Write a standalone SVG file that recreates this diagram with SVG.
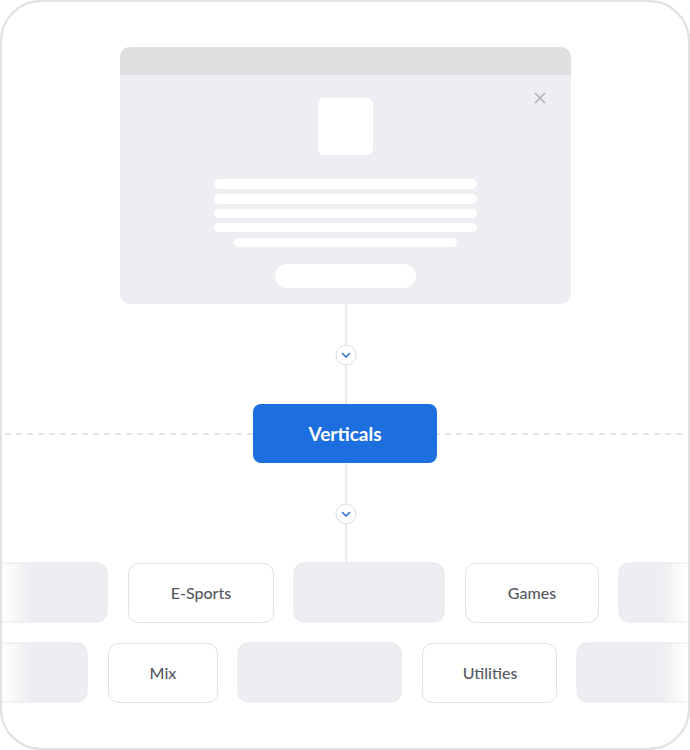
<svg xmlns="http://www.w3.org/2000/svg" width="690" height="750" viewBox="0 0 690 750">
<style>
.gbox{stroke:#e4e6ea;stroke-width:1}
.wbox{fill:#ffffff;stroke:#dfe1e5;stroke-width:1}
.lbl{font-family:Lato,"Liberation Sans",sans-serif;font-size:16px;fill:#555862;text-anchor:middle;font-weight:500}
.bar{fill:#ffffff}
.conn{stroke:#e3e4e6;stroke-width:1.5;fill:none}
.chev{fill:#fff;stroke:#dcdde0;stroke-width:1}
.chevp{fill:none;stroke:#2a6fd6;stroke-width:1.6;stroke-linecap:round;stroke-linejoin:round}
</style>
<defs>
<linearGradient id="fadeL" gradientUnits="userSpaceOnUse" x1="3" y1="0" x2="30" y2="0">
<stop offset="0" stop-color="#eceef1" stop-opacity="0"/>
<stop offset="1" stop-color="#eceef1"/>
</linearGradient>
<linearGradient id="fadeR" gradientUnits="userSpaceOnUse" x1="660" y1="0" x2="688" y2="0">
<stop offset="0" stop-color="#eceef1"/>
<stop offset="1" stop-color="#eceef1" stop-opacity="0"/>
</linearGradient>
<clipPath id="frameClip"><rect x="1" y="1" width="688" height="748" rx="40"/></clipPath>
</defs>
<rect x="1" y="1" width="688" height="748" rx="40" fill="#ffffff" stroke="#e2e2e2" stroke-width="2"/>

<g id="popup">
<rect x="120" y="47" width="451" height="257" rx="10" fill="#eceef1"/>
<path d="M120 75 V57 a10 10 0 0 1 10 -10 H561 a10 10 0 0 1 10 10 V75 Z" fill="#dfdfe0"/>
<path d="M535 93 L545 103 M545 93 L535 103" stroke="#a9abb0" stroke-width="1.3" fill="none"/>
<rect x="318" y="98" width="55" height="57" rx="6" fill="#ffffff"/>
<rect class="bar" x="214" y="179" width="263" height="10" rx="5"/>
<rect class="bar" x="214" y="194" width="263" height="10" rx="5"/>
<rect class="bar" x="214" y="209" width="263" height="9" rx="4.5"/>
<rect class="bar" x="214" y="223" width="263" height="9" rx="4.5"/>
<rect class="bar" x="234" y="238" width="223" height="9" rx="4.5"/>
<rect x="275" y="264" width="141" height="24" rx="12" fill="#ffffff"/>
</g>

<g id="connectors">
<line x1="5" y1="434" x2="686" y2="434" stroke="#dcdde0" stroke-width="1.5" stroke-dasharray="6 5"/>
<line class="conn" x1="346" y1="304" x2="346" y2="404"/>
<line class="conn" x1="346" y1="463" x2="346" y2="563"/>
<circle class="chev" cx="346" cy="355" r="10"/>
<path class="chevp" d="M342.5 353.5 L346 357 L349.5 353.5"/>
<circle class="chev" cx="346" cy="514" r="10"/>
<path class="chevp" d="M342.5 512.5 L346 516 L349.5 512.5"/>
</g>

<g id="verticals">
<rect x="253" y="404" width="184" height="59" rx="8" fill="#1d6fe0"/>
<text x="345" y="441" font-family="Lato,'Liberation Sans',sans-serif" font-size="19" font-weight="700" fill="#ffffff" text-anchor="middle">Verticals</text>
</g>

<g clip-path="url(#frameClip)">
<g id="r1b1"><rect class="gbox" x="-10" y="563" width="117" height="59" rx="10" fill="url(#fadeL)"/></g>
<g id="esports"><rect class="wbox" x="128.5" y="563.5" width="145" height="59" rx="10"/><text class="lbl" x="201" y="599">E-Sports</text></g>
<g id="r1b3"><rect class="gbox" x="294" y="563" width="150" height="59" rx="10" fill="#eceef1"/></g>
<g id="games"><rect class="wbox" x="465.5" y="563.5" width="133" height="59" rx="10"/><text class="lbl" x="532" y="599">Games</text></g>
<g id="r1b5"><rect class="gbox" x="619" y="563" width="80" height="59" rx="10" fill="url(#fadeR)"/></g>

<g id="r2b1"><rect class="gbox" x="-10" y="643" width="97" height="59" rx="10" fill="url(#fadeL)"/></g>
<g id="mix"><rect class="wbox" x="108.5" y="643.5" width="109" height="59" rx="10"/><text class="lbl" x="163" y="679">Mix</text></g>
<g id="r2b3"><rect class="gbox" x="238" y="643" width="163" height="59" rx="10" fill="#eceef1"/></g>
<g id="utilities"><rect class="wbox" x="422.5" y="643.5" width="134" height="59" rx="10"/><text class="lbl" x="490" y="679">Utilities</text></g>
<g id="r2b5"><rect class="gbox" x="577" y="643" width="122" height="59" rx="10" fill="url(#fadeR)"/></g>
</g>
<rect x="1" y="1" width="688" height="748" rx="40" fill="none" stroke="#e2e2e2" stroke-width="2"/>
</svg>
